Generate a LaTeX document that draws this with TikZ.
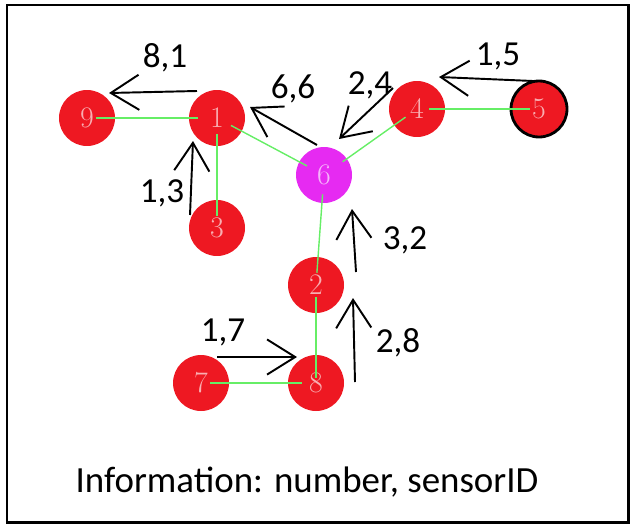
\documentclass[tikz,border=0pt]{standalone}
\usepackage{fontspec}
\setsansfont{Carlito}
\usetikzlibrary{arrows.meta}
\definecolor{nodered}{HTML}{EE1822}
\definecolor{nodemag}{HTML}{E62AF2}
\definecolor{linkgreen}{HTML}{66EE66}
\begin{document}
\begin{tikzpicture}[x=0.02cm,y=-0.02cm,
  sensor/.style={circle, fill=nodered, minimum size=1.12cm, inner sep=0pt,
    font=\fontsize{17}{17}\selectfont, text=white, text opacity=0.65},
  link/.style={draw=linkgreen, line width=0.8pt},
  msg/.style={draw=black, line width=1.1pt, -{Straight Barb[length=16pt,width=20pt]}},
  lbl/.style={font=\sffamily\fontsize{20}{20}\selectfont, inner sep=0pt}]
\useasboundingbox (0,0) rectangle (634,527);
\draw[line width=1.7pt] (7,5) rectangle (628,522);
% sensors
\node[sensor] (n9) at (87,118) {9};
\node[sensor] (n1) at (217,118) {1};
\node[sensor] (n3) at (217,228) {3};
\node[sensor, fill=nodemag] (n6) at (324,175) {6};
\node[sensor] (n4) at (417,109) {4};
\node[sensor, draw=black, line width=1.6pt] (n5) at (539,109) {5};
\node[sensor] (n2) at (316,285) {2};
\node[sensor] (n7) at (201,383) {7};
\node[sensor] (n8) at (316,383) {8};
% links
\draw[link, shorten <=5pt, shorten >=11pt] (n9.center) -- (n1.center);
\draw[link, shorten <=9pt, shorten >=7pt] (n1.center) -- (n3.center);
\draw[link, shorten <=9pt, shorten >=11pt] (n1.center) -- (n6.center);
\draw[link, shorten <=13pt, shorten >=8pt] (n6.center) -- (n4.center);
\draw[link, shorten <=7pt, shorten >=5pt] (n4.center) -- (n5.center);
\draw[link, shorten <=11pt, shorten >=7pt] (n6.center) -- (n2.center);
\draw[link, shorten <=7pt, shorten >=3pt] (n2.center) -- (n8.center);
\draw[link, shorten <=5pt, shorten >=8pt] (n7.center) -- (n8.center);
% message arrows
\coordinate (a81s) at (197,91);   \coordinate (a81e) at (109,93);
\coordinate (a66s) at (317,145);  \coordinate (a66e) at (250,107);
\coordinate (a13s) at (190,215);  \coordinate (a13e) at (193,141);
\coordinate (a24s) at (393,88);   \coordinate (a24e) at (339,139);
\coordinate (a15s) at (533,81);   \coordinate (a15e) at (439,77);
\coordinate (a32s) at (356,272);  \coordinate (a32e) at (352,209);
\coordinate (a28s) at (355,382);  \coordinate (a28e) at (353,298);
\coordinate (a17s) at (217,357);  \coordinate (a17e) at (297,357);
\draw[msg] (a81s) -- (a81e);
\draw[msg] (a66s) -- (a66e);
\draw[msg] (a13s) -- (a13e);
\draw[msg] (a24s) -- (a24e);
\draw[msg] (a15s) -- (a15e);
\draw[msg] (a32s) -- (a32e);
\draw[msg] (a28s) -- (a28e);
\draw[msg] (a17s) -- (a17e);
% labels
\node[lbl] (l81) at (165,58) {8,1};
\node[lbl] (l66) at (293,89) {6,6};
\node[lbl] (l13) at (162,193) {1,3};
\node[lbl] (l24) at (370,85) {2,4};
\node[lbl] (l15) at (498,56) {1,5};
\node[lbl] (l32) at (405,240) {3,2};
\node[lbl] (l28) at (398,343) {2,8};
\node[lbl] (l17) at (223,332) {1,7};
\node[lbl, font=\sffamily\fontsize{21}{21}\selectfont] (info) at (307,482) {Information: number, sensorID};
\end{tikzpicture}
\end{document}
